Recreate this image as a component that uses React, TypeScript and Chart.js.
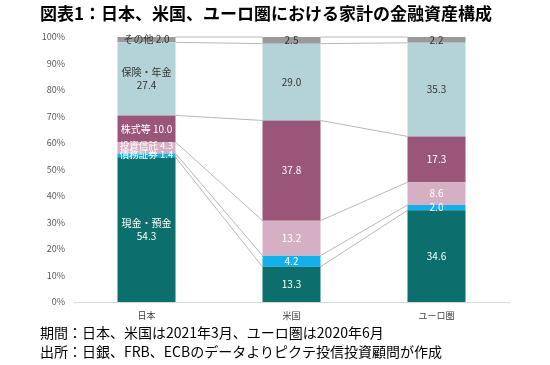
import React, { useEffect, useRef } from "react";
import { Chart, registerables } from "chart.js";

Chart.register(...registerables);

const categories = ["日本", "米国", "ユーロ圏"];
const seriesNames = ["現金・預金", "債務証券", "投資信託", "株式等", "保険・年金", "その他"];
const cash = [54.3, 13.3, 34.6];
const bonds = [1.4, 4.2, 2.0];
const trusts = [4.3, 13.2, 8.6];
const stocks = [10.0, 37.8, 17.3];
const insurance = [27.4, 29.0, 35.3];
const other = [2.0, 2.5, 2.2];
const yTicks = [0, 10, 20, 30, 40, 50, 60, 70, 80, 90, 100];
const titleText = "図表1：日本、米国、ユーロ圏における家計の金融資産構成";
const noteLines = [
  "期間：日本、米国は2021年3月、ユーロ圏は2020年6月",
  "出所：日銀、FRB、ECBのデータよりピクテ投信投資顧問が作成",
];

const seriesValues = [cash, bonds, trusts, stocks, insurance, other];
const barColors = ["#0B6F6E", "#13B0EC", "#D5B0C4", "#9A5679", "#B3D3D6", "#9A9A9A"];
const textColors = ["#FFFFFF", "#FFFFFF", "#FFFFFF", "#FFFFFF", "#333333", "#333333"];
const twoLineSeries = [0, 4];
const FONT = '"Noto Sans CJK JP", "Noto Sans", sans-serif';

const totals = categories.map((_, j) => seriesValues.reduce((s, arr) => s + arr[j], 0));

const connectorPlugin = {
  id: "connectors",
  beforeDatasetsDraw(chart: any) {
    const ctx = chart.ctx;
    ctx.save();
    ctx.strokeStyle = "#A6A6A6";
    ctx.lineWidth = 0.8;
    chart.data.datasets.forEach((_: any, i: number) => {
      const meta = chart.getDatasetMeta(i);
      for (let j = 0; j < meta.data.length - 1; j++) {
        const a = meta.data[j];
        const b = meta.data[j + 1];
        ctx.beginPath();
        ctx.moveTo(a.x + a.width / 2, a.y);
        ctx.lineTo(b.x - b.width / 2, b.y);
        ctx.stroke();
      }
    });
    ctx.restore();
  },
};

// small vertical nudges for crowded first-category labels (series index -> px)
const firstBarNudge: Record<number, number> = { 1: -1, 2: -2.5 };

const labelPlugin = {
  id: "segLabels",
  afterDatasetsDraw(chart: any) {
    const ctx = chart.ctx;
    ctx.save();
    ctx.textAlign = "center";
    ctx.textBaseline = "middle";
    chart.data.datasets.forEach((ds: any, i: number) => {
      const meta = chart.getDatasetMeta(i);
      meta.data.forEach((el: any, j: number) => {
        const raw = seriesValues[i][j];
        const cy = (el.y + el.base) / 2;
        ctx.fillStyle = textColors[i];
        if (j === 0) {
          const small = i === 1 || i === 2;
          ctx.font = `${small ? 9.5 : 10}px ${FONT}`;
          const y = cy + (firstBarNudge[i] || 0);
          if (twoLineSeries.includes(i)) {
            ctx.fillText(seriesNames[i], el.x, y - 6.5);
            ctx.fillText(raw.toFixed(1), el.x, y + 6.5);
          } else {
            ctx.fillText(`${seriesNames[i]} ${raw.toFixed(1)}`, el.x, y);
          }
        } else {
          ctx.font = `10px ${FONT}`;
          ctx.fillText(raw.toFixed(1), el.x, cy);
        }
      });
    });
    ctx.restore();
  },
};

export default function App() {
  const canvasRef = useRef<HTMLCanvasElement | null>(null);

  useEffect(() => {
    if (!canvasRef.current) return;
    const chart = new Chart(canvasRef.current, {
      type: "bar",
      data: {
        labels: categories,
        datasets: seriesValues.map((arr, i) => ({
          label: seriesNames[i],
          data: arr.map((v, j) => (v / totals[j]) * 100),
          backgroundColor: barColors[i],
          borderWidth: 0,
          categoryPercentage: 1,
          barPercentage: 0.4,
        })),
      },
      options: {
        animation: false,
        responsive: false,
        maintainAspectRatio: false,
        layout: { padding: { left: 0, top: 37, right: 41, bottom: 43 } },
        plugins: {
          legend: { display: false },
          tooltip: { enabled: false },
          title: { display: false },
        },
        scales: {
          x: {
            stacked: true,
            grid: { display: false, drawTicks: false },
            border: { display: true, color: "#D9D9D9", width: 1 },
            ticks: { color: "#404040", font: { size: 9, family: FONT }, padding: 8 },
            afterFit: (s: any) => {
              s.height = 20;
            },
          },
          y: {
            stacked: true,
            min: 0,
            max: 100,
            afterBuildTicks: (s: any) => {
              s.ticks = yTicks.map((v) => ({ value: v }));
            },
            grid: { display: false, drawTicks: false },
            border: { display: false },
            ticks: {
              color: "#595959",
              font: { size: 9, family: FONT },
              padding: 9,
              callback: (v: any) => `${v}%`,
            },
            afterFit: (s: any) => {
              s.width = 74;
            },
          },
        },
      },
      plugins: [connectorPlugin, labelPlugin],
    });
    return () => chart.destroy();
  }, []);

  return (
    <div style={{ position: "fixed", left: 0, top: 0, width: 550, height: 365, background: "#fff" }}>
      <canvas ref={canvasRef} width={550} height={365} style={{ position: "absolute", left: 0, top: 0 }} />
      <div
        style={{
          position: "absolute",
          left: 40,
          top: 3,
          fontFamily: FONT,
          fontSize: 17,
          fontWeight: "bold",
          lineHeight: "20px",
          color: "#000",
          whiteSpace: "nowrap",
        }}
      >
        {titleText}
      </div>
      <div
        style={{
          position: "absolute",
          left: 40,
          top: 323,
          fontFamily: FONT,
          fontSize: 14,
          lineHeight: "19px",
          color: "#000",
          whiteSpace: "nowrap",
        }}
      >
        {noteLines.map((t, k) => (
          <div key={k}>{t}</div>
        ))}
      </div>
    </div>
  );
}
